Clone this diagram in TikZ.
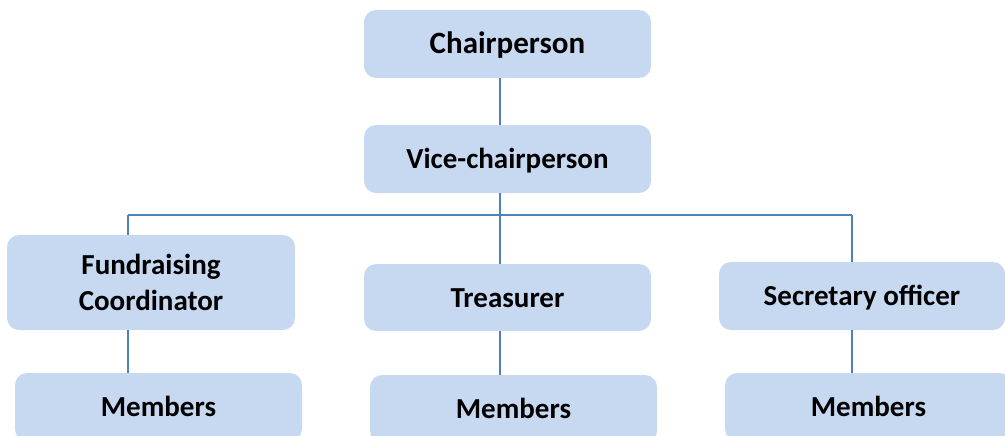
\documentclass[tikz,border=0pt]{standalone}
\usepackage{fontspec}
\setmainfont{Carlito}
\usepackage{tikz}
\usetikzlibrary{positioning}
\definecolor{boxfill}{HTML}{C6D9F1}
\definecolor{linkcol}{HTML}{4F81BD}
\tikzstyle{role} = [rectangle, rounded corners=12pt, fill=boxfill, minimum width=287pt, minimum height=68pt, inner sep=2pt, text centered, align=center, text height=19pt, text depth=0pt, font=\fontsize{29}{36}\selectfont\bfseries]
\tikzstyle{link} = [draw=linkcol, line width=2.2pt]

\begin{document}
\begin{tikzpicture}[x=1pt,y=-1pt]
\useasboundingbox (0,0) rectangle (1005,436);
\clip (0,0) rectangle (1005,436);
%%
\node (chair) at (507.5,44) [role, text height=20pt, font=\fontsize{31}{36}\selectfont\bfseries] {Chairperson};
\node (vice) at (507.5,159) [role] {Vice-chairperson};
\node (fund) at (151,282.5) [role, minimum width=288pt, minimum height=95pt, text height={}, text depth={}] {Fundraising\\Coordinator};
\node (treas) at (507.5,297.5) [role, minimum height=67pt] {Treasurer};
\node (sec) at (862,296) [role, minimum width=286pt] {Secretary officer};
\node (fundm) at (158.5,407) [role] {Members};
\node (treasm) at (513.5,409) [role] {Members};
\node (secm) at (868.5,407) [role] {Members};
%
\coordinate (busL) at (128,215);
\coordinate (busM) at (500,215);
\coordinate (busR) at (852,215);
\draw [link] ([xshift=-7.5pt]chair.south) -- ([xshift=-7.5pt]vice.north);
\draw [link] ([xshift=-7.5pt]vice.south) -- (busM);
\draw [link] (busL) -- (busR);
\draw [link] (busL) -- (busL |- fund.north);
\draw [link] (busM) -- (busM |- treas.north);
\draw [link] (busR) -- (busR |- sec.north);
\draw [link] (busL |- fund.south) -- (busL |- fundm.north);
\draw [link] (busM |- treas.south) -- (busM |- treasm.north);
\draw [link] (busR |- sec.south) -- (busR |- secm.north);
%
\end{tikzpicture}
\end{document}
